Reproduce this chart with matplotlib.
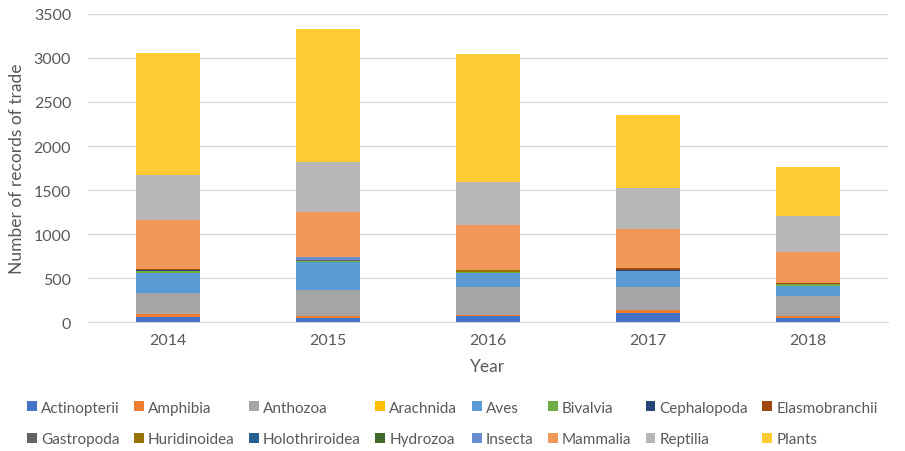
import matplotlib.pyplot as plt
import numpy as np

plt.rcParams['font.family'] = ['Lato', 'DejaVu Sans']

years = ['2014', '2015', '2016', '2017', '2018']
groups = ['Actinopterii', 'Amphibia', 'Anthozoa', 'Arachnida', 'Aves', 'Bivalvia',
          'Cephalopoda', 'Elasmobranchii', 'Gastropoda', 'Huridinoidea',
          'Holothriroidea', 'Hydrozoa', 'Insecta', 'Mammalia', 'Reptilia', 'Plants']

actinopterii = [60, 47, 70, 104, 49]
amphibia = [30, 20, 15, 34, 23]
anthozoa = [246, 303, 309, 256, 227]
arachnida = [0, 0, 0, 0, 0]
aves = [228, 309, 159, 187, 114]
bivalvia = [20, 12, 18, 0, 15]
cephalopoda = [14, 0, 0, 15, 0]
elasmobranchii = [3, 0, 0, 15, 20]
gastropoda = [3, 12, 0, 0, 0]
huridinoidea = [0, 0, 25, 0, 0]
holothriroidea = [0, 0, 0, 0, 0]
hydrozoa = [0, 8, 0, 0, 0]
insecta = [0, 27, 0, 0, 0]
mammalia = [556, 511, 504, 450, 351]
reptilia = [515, 568, 489, 458, 402]
plants = [1382, 1507, 1458, 833, 564]

colors = ['#4472C4', '#ED7D31', '#A5A5A5', '#FFC000', '#5B9BD5', '#70AD47',
          '#264478', '#9E480E', '#636363', '#997300', '#255E91', '#43682B',
          '#698ED0', '#F1975A', '#B7B7B7', '#FFCD33']

series = [actinopterii, amphibia, anthozoa, arachnida, aves, bivalvia, cephalopoda,
          elasmobranchii, gastropoda, huridinoidea, holothriroidea, hydrozoa,
          insecta, mammalia, reptilia, plants]

fig = plt.figure(figsize=(9.05, 4.52), dpi=100)
ax = fig.add_axes([0.097, 0.285, 0.884, 0.682])

x = np.arange(len(years))
bottom = np.zeros(len(years))
handles = []
for name, vals, c in zip(groups, series, colors):
    b = ax.bar(x, vals, 0.4, bottom=bottom, color=c, label=name, zorder=3)
    handles.append(b)
    bottom += np.array(vals)

ax.set_xlim(-0.5, 4.5)
ax.set_ylim(0, 3500)
ax.set_yticks(range(0, 3501, 500))
ax.set_xticks(x)
ax.set_xticklabels(years)
ax.grid(axis='y', color='#D9D9D9', linewidth=1, zorder=0)
for s in ['top', 'right', 'left']:
    ax.spines[s].set_visible(False)
ax.spines['bottom'].set_color('#D9D9D9')
ax.tick_params(axis='both', colors='#595959', labelsize=11.5, length=0, pad=8)
ax.tick_params(axis='y', pad=12)
ax.set_ylabel('Number of records of trade', fontsize=12.5, color='#595959', labelpad=6)
ax.set_xlabel('Year', fontsize=12.5, color='#595959', labelpad=8)

# legend fills column-wise, so interleave the two rows
order = []
for i in range(8):
    order += [i, i + 8]
fig.legend([handles[i] for i in order], [groups[i] for i in order],
           ncol=8, loc='lower center', bbox_to_anchor=(0.5, -0.02),
           frameon=False, fontsize=11, handlelength=0.65, handleheight=0.65,
           handletextpad=0.25, columnspacing=0.95, labelspacing=1.15,
           labelcolor='#595959')

fig.savefig('out.png', dpi=100)
